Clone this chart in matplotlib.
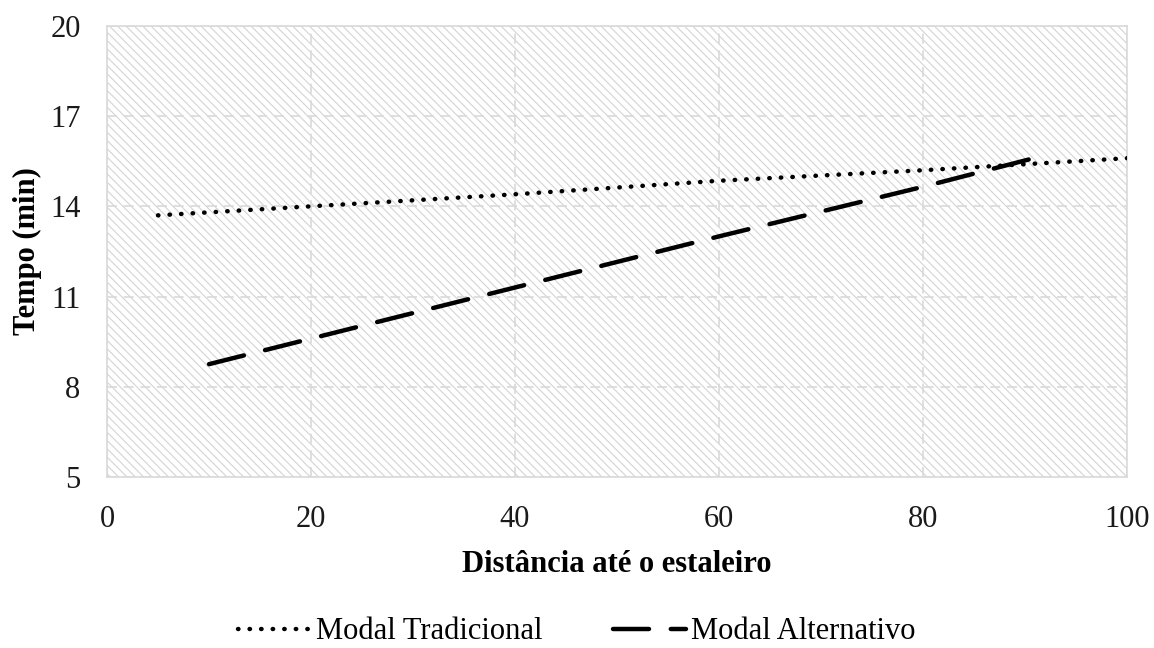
import numpy as np
import matplotlib.pyplot as plt
from matplotlib.patches import Rectangle

# dados
dist_trad = [5, 20, 40, 60, 80, 100]
tempo_trad = [13.7, 14.0, 14.4, 14.85, 15.2, 15.6]
dist_alt = [10, 20, 40, 60, 80, 92]
tempo_alt = [8.75, 9.6, 11.3, 13.0, 14.65, 15.7]
xticks = [0, 20, 40, 60, 80, 100]
yticks = [5, 8, 11, 14, 17, 20]

plt.rcParams['font.family'] = ['Liberation Serif', 'DejaVu Serif']
plt.rcParams['hatch.linewidth'] = 0.8
plt.rcParams['hatch.color'] = '#d4d4d4'

fig = plt.figure(figsize=(11.54, 6.48), dpi=100)
ax = fig.add_axes([0.0927, 0.264, 0.8839, 0.696])

# fundo hachurado
bg = Rectangle((0, 0), 1, 1, transform=ax.transAxes, facecolor='white',
               edgecolor='#d4d4d4', hatch='\\\\\\\\', linewidth=0, zorder=0)
ax.add_patch(bg)

ax.grid(True, color='#d9d9d9', linestyle=(0, (6, 4)), linewidth=1.2, zorder=1)
ax.set_axisbelow(True)

ax.plot(dist_trad, tempo_trad, color='black', linewidth=3.2,
        linestyle=(0, (0.1, 2.5)), dash_capstyle='round', zorder=3,
        label='Modal Tradicional')
ax.plot(dist_alt, tempo_alt, color='black', linewidth=3.2,
        linestyle=(0, (8.1, 4.9)), dash_capstyle='round', solid_capstyle='round',
        zorder=3, label='Modal Alternativo')

ax.set_xlim(0, 100)
ax.set_ylim(5, 20)
ax.set_xticks(xticks)
ax.set_yticks(yticks)
ax.tick_params(length=0, labelsize=22, colors='#1a1a1a')
ax.tick_params(axis='y', pad=19)
ax.tick_params(axis='x', pad=20)
for s in ax.spines.values():
    s.set_color('#d9d9d9')
    s.set_linewidth(1.2)

ax.set_xlabel('Distância até o estaleiro', fontsize=22, fontweight='bold', labelpad=12)
ax.set_ylabel('Tempo (min)', fontsize=22, fontweight='bold', labelpad=6)

leg = fig.legend(loc='center', bbox_to_anchor=(0.5, 0.025), ncol=2, frameon=False,
                 fontsize=22, handlelength=2.4, handletextpad=0.15, columnspacing=2.3)

fig.savefig('out.png', dpi=100)
